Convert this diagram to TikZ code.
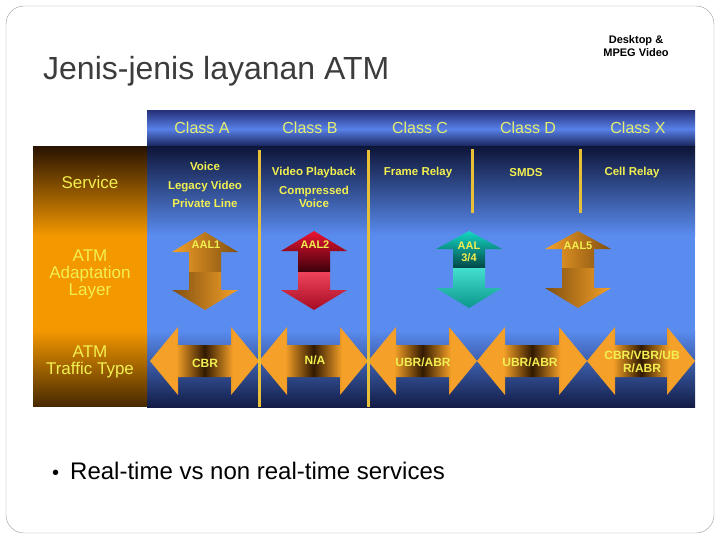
\documentclass[tikz,border=0pt]{standalone}
\usepackage{fontspec}
\setmainfont{Liberation Sans}
\usepackage{xcolor}
\usepackage{tikz}

\definecolor{atmblue}{RGB}{90,140,240}
\definecolor{atmnavy}{RGB}{14,22,58}
\definecolor{atmnavyb}{RGB}{18,28,70}
\definecolor{hdrtop}{RGB}{40,52,125}
\definecolor{hdrmid}{RGB}{88,128,232}
\definecolor{hdrbot}{RGB}{22,32,85}
\definecolor{atmorange}{RGB}{244,152,0}
\definecolor{darkbrown}{RGB}{42,20,0}
\definecolor{brownb}{RGB}{72,42,0}
\definecolor{txtyellow}{RGB}{242,240,80}
\definecolor{clsyellow}{RGB}{228,240,110}
\definecolor{goldline}{RGB}{232,192,56}
\definecolor{arrorange}{RGB}{245,160,40}
\definecolor{arrdark}{RGB}{50,26,0}
\definecolor{aalred}{RGB}{235,20,50}
\definecolor{aaldkred}{RGB}{60,0,10}
\definecolor{aalteal}{RGB}{20,215,195}
\definecolor{aaldkteal}{RGB}{0,70,70}
\definecolor{titlegray}{RGB}{60,60,60}

% orange at both ends, dark spot in the middle
\pgfdeclarehorizontalshading{trafficshade}{100bp}{color(0bp)=(arrorange);
  color(25bp)=(arrorange); color(37bp)=(arrorange); color(50bp)=(arrdark);
  color(63bp)=(arrorange); color(75bp)=(arrorange); color(100bp)=(arrorange)}

\begin{document}
\begin{tikzpicture}[x=1pt, y=-1pt,
    cls/.style={text=clsyellow, font=\fontsize{16}{18}\selectfont, inner sep=0pt},
    svc/.style={text=txtyellow, font=\bfseries\fontsize{11.5}{18.5}\selectfont,
                align=center, inner sep=0pt},
    rowlabel/.style={text=txtyellow, font=\fontsize{17}{17}\selectfont,
                     align=center, inner sep=0pt},
    aal/.style={text=txtyellow, font=\bfseries\fontsize{11}{12}\selectfont,
                align=center, inner sep=0pt},
    traffic/.style={text=txtyellow, font=\bfseries\fontsize{12}{12.5}\selectfont,
                    align=center, inner sep=0pt},
    divider/.style={goldline, line width=3pt},
]
\useasboundingbox (0,0) rectangle (720,540);
\draw[gray!80, rounded corners=18pt] (6,6) rectangle (714,533);

% Title and note
\node[anchor=base west, text=titlegray, font=\fontsize{32}{36}\selectfont,
      inner sep=0pt] (title) at (43,80) {Jenis-jenis layanan ATM};
\node[align=center, font=\bfseries\fontsize{11}{12.5}\selectfont, inner sep=0pt]
    (note) at (636,46) {Desktop \&\\MPEG Video};

% Header bar and panels
\shade[top color=hdrtop, bottom color=hdrbot, middle color=hdrmid]
    (147,111) rectangle (695,147);
\shade[top color=atmnavy, bottom color=atmblue] (147,147) rectangle (695,236);
\fill[atmblue] (147,235.5) rectangle (695,330.5);
\shade[top color=atmblue, bottom color=atmnavyb] (147,330) rectangle (695,407);
\shade[top color=darkbrown, bottom color=atmorange] (33,147) rectangle (147,236);
\fill[atmorange] (33,235.5) rectangle (147,330.5);
\shade[top color=atmorange, bottom color=brownb] (33,330) rectangle (147,406);

% Class headings
\foreach \x/\c in {202/A, 310/B, 420/C, 528/D, 638/X}
    \node[cls] (class\c) at (\x,128) {Class \c};

% Row labels
\node[rowlabel] (service) at (90,182) {Service};
\node[rowlabel] (aalrow) at (90,274) {ATM\\Adaptation\\Layer};
\node[rowlabel, font=\fontsize{17}{16.5}\selectfont] (ttype) at (90,362)
    {ATM\\Traffic Type};

% Services
\node[svc] (svcA) at (205,185) {Voice\\Legacy Video\\Private Line};
\node[svc] (svcB) at (314,173) {Video Playback};
\node[svc, font=\bfseries\fontsize{11.5}{12.5}\selectfont] (svcB2) at (314,197)
    {Compressed\\Voice};
\node[svc] (svcC) at (418,173) {Frame Relay};
\node[svc] (svcD) at (526,173) {SMDS};
\node[svc] (svcX) at (632,173) {Cell Relay};

% AAL arrows
\begin{scope}[shift={(205,232)}]
  \shade[left color=arrorange, right color=arrdark!60!arrorange]
    (0,0) -- (33,20) -- (16,20) -- (16,40) -- (-16,40) -- (-16,20) -- (-33,20) -- cycle;
  \shade[left color=arrdark!60!arrorange, right color=arrorange]
    (-16,40) -- (16,40) -- (16,58) -- (33,58) -- (0,78) -- (-33,58) -- (-16,58) -- cycle;
\end{scope}
\begin{scope}[shift={(314,231)}]
  \shade[top color=aalred, bottom color=aaldkred]
    (0,0) -- (33,20) -- (16,20) -- (16,41) -- (-16,41) -- (-16,20) -- (-33,20) -- cycle;
  \shade[top color=aalred!80!white, bottom color=aalred!60!aaldkred]
    (-16,41) -- (16,41) -- (16,59) -- (33,59) -- (0,79) -- (-33,59) -- (-16,59) -- cycle;
\end{scope}
\begin{scope}[shift={(469,231)}]
  \shade[top color=aalteal, bottom color=aaldkteal]
    (0,0) -- (33,18) -- (16,18) -- (16,37) -- (-16,37) -- (-16,18) -- (-33,18) -- cycle;
  \shade[top color=aalteal!80!white, bottom color=aalteal!55!aaldkteal]
    (-16,37) -- (16,37) -- (16,57) -- (33,57) -- (0,77) -- (-33,57) -- (-16,57) -- cycle;
\end{scope}
\begin{scope}[shift={(578,231)}]
  \shade[left color=arrorange, right color=arrdark!60!arrorange]
    (0,0) -- (33,18) -- (16,18) -- (16,37) -- (-16,37) -- (-16,18) -- (-33,18) -- cycle;
  \shade[left color=arrdark!60!arrorange, right color=arrorange]
    (-16,37) -- (16,37) -- (16,57) -- (33,57) -- (0,77) -- (-33,57) -- (-16,57) -- cycle;
\end{scope}

\node[aal] (aal1) at (206,245) {AAL1};
\node[aal] (aal2) at (315,245) {AAL2};
\node[aal] (aal34) at (469,252) {AAL\\3/4};
\node[aal] (aal5) at (578,246) {AAL5};

% Traffic arrows
\foreach \xa/\xb in {150/259, 259/368, 368/477, 477/587, 587/695}
  \shade[shading=trafficshade]
    (\xa,361) -- (\xa+28,327) -- (\xa+28,345) -- (\xb-28,345) -- (\xb-28,327)
    -- (\xb,361) -- (\xb-28,395) -- (\xb-28,377) -- (\xa+28,377) -- (\xa+28,395) -- cycle;

\node[traffic] (cbr) at (205,363) {CBR};
\node[traffic] (na) at (315,360) {N/A};
\node[traffic] (ubrC) at (423,362) {UBR/ABR};
\node[traffic] (ubrD) at (530,362) {UBR/ABR};
\node[traffic] (allX) at (642,362) {CBR/VBR/UB\\R/ABR};

% Dividers
\draw[divider] (259,150) -- (259,407);
\draw[divider] (368,150) -- (368,407);
\draw[divider] (472,149) -- (472,213);
\draw[divider] (580,149) -- (580,213);

% Bullet
\node[anchor=base west, font=\fontsize{20}{24}\selectfont, inner sep=0pt]
    (bullet) at (52,479) {•};
\node[anchor=base west, font=\fontsize{24}{28}\selectfont, inner sep=0pt]
    (point) at (70,479) {Real-time vs non real-time services};
\end{tikzpicture}
\end{document}
